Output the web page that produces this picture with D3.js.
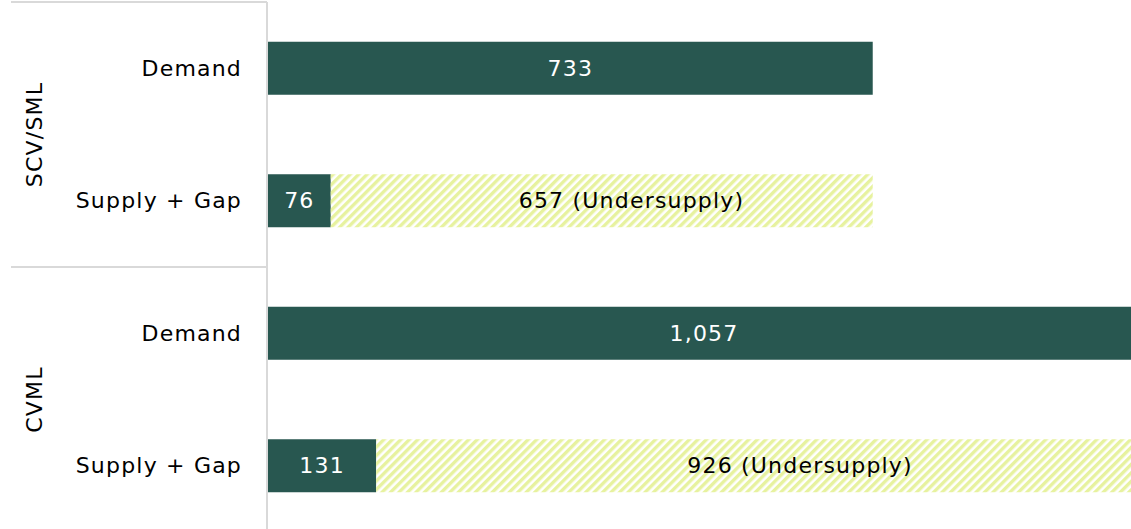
<!DOCTYPE html>
<html>
<head>
<meta charset="utf-8">
<script src="https://cdn.jsdelivr.net/npm/d3@7"></script>
<style>
  body { margin: 0; background: #fff; }
  svg text { font-family: "DejaVu Sans", sans-serif; letter-spacing: 1.2px; }
</style>
</head>
<body>
<div id="chart" style="width:1131px;height:529px"></div>
<script>
// data
var groups = ["SCV/SML", "CVML"];
var rowNames = ["Demand", "Supply + Gap"];
var demand = [733, 1057];
var supply = [76, 131];
var gap = [657, 926];

var W = 1131, H = 529;
var margin = {top: 2, left: 268};
var groupH = 265;

var svg = d3.select("#chart").append("svg")
  .attr("width", W).attr("height", H);

// hatch pattern for the gap
svg.append("defs").append("pattern")
  .attr("id", "hatch")
  .attr("patternUnits", "userSpaceOnUse")
  .attr("width", 6).attr("height", 6)
  .attr("patternTransform", "rotate(45)")
  .append("rect")
    .attr("width", 3.4).attr("height", 6)
    .attr("fill", "#e7f29f");

var rows = [];
groups.forEach(function(g, i) {
  rows.push({group: g, name: rowNames[0], key: g + "|0", seg: [{v0: 0, v1: demand[i], type: "demand"}]});
  rows.push({group: g, name: rowNames[1], key: g + "|1", seg: [
    {v0: 0, v1: supply[i], type: "supply"},
    {v0: supply[i], v1: supply[i] + gap[i], type: "gap"}]});
});

var x = d3.scaleLinear().domain([0, 1000]).range([margin.left, margin.left + 825]);
var y = d3.scaleBand()
  .domain(rows.map(function(d) { return d.key; }))
  .range([margin.top, margin.top + groupH * 2])
  .paddingInner(0.6).paddingOuter(0.3);

// group separators
var gy = d3.scaleBand().domain(groups).range([margin.top, margin.top + groupH * 2]);
svg.selectAll("line.sep")
  .data(groups)
  .enter().append("line")
    .attr("x1", 11).attr("x2", margin.left - 1)
    .attr("y1", function(d) { return gy(d); })
    .attr("y2", function(d) { return gy(d); })
    .attr("stroke", "#d9d9d9").attr("stroke-width", 2);
svg.append("line")
  .attr("x1", margin.left - 1).attr("x2", margin.left - 1)
  .attr("y1", margin.top).attr("y2", H)
  .attr("stroke", "#d9d9d9").attr("stroke-width", 2);

// group labels
svg.selectAll("text.group")
  .data(groups)
  .enter().append("text")
    .attr("transform", function(d) { return "translate(42," + (gy(d) + gy.bandwidth() / 2) + ")rotate(-90)"; })
    .attr("text-anchor", "middle")
    .attr("font-size", 22)
    .attr("fill", "#000")
    .text(function(d) { return d; });

// row labels
svg.selectAll("text.row")
  .data(rows)
  .enter().append("text")
    .attr("x", 242)
    .attr("y", function(d) { return y(d.key) + y.bandwidth() / 2; })
    .attr("dy", "0.35em")
    .attr("text-anchor", "end")
    .attr("font-size", 22)
    .attr("fill", "#000")
    .text(function(d) { return d.name; });

// bars
var rowG = svg.selectAll("g.bar")
  .data(rows)
  .enter().append("g")
    .attr("transform", function(d) { return "translate(0," + y(d.key) + ")"; });

rowG.selectAll("rect")
  .data(function(d) { return d.seg; })
  .enter().append("rect")
    .attr("x", function(d) { return x(d.v0); })
    .attr("width", function(d) { return x(d.v1) - x(d.v0); })
    .attr("height", y.bandwidth())
    .attr("fill", function(d) { return d.type == "gap" ? "url(#hatch)" : "#285750"; });

rowG.selectAll("text")
  .data(function(d) { return d.seg; })
  .enter().append("text")
    .attr("x", function(d) {
      if (d.type == "gap") return x(d.v0 + (d.v1 - d.v0) * 0.555);
      return (x(d.v0) + x(d.v1)) / 2;
    })
    .attr("y", y.bandwidth() / 2)
    .attr("dy", "0.35em")
    .attr("text-anchor", "middle")
    .attr("font-size", 22)
    .attr("fill", function(d) { return d.type == "gap" ? "#000" : "#fff"; })
    .text(function(d) {
      var v = d3.format(",")(d.v1 - d.v0);
      return d.type == "gap" ? v + " (Undersupply)" : v;
    });
</script>
</body>
</html>
